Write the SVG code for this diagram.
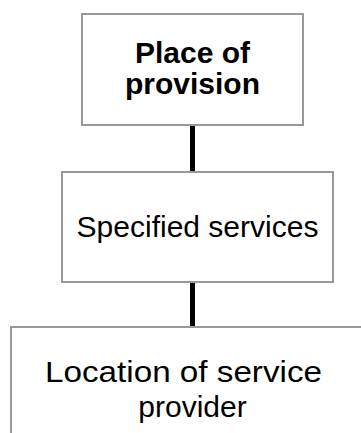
<svg xmlns="http://www.w3.org/2000/svg" width="361" height="433" viewBox="0 0 361 433">
  <style>
    .box { fill: #ffffff; stroke: #999999; stroke-width: 2; }
    .conn { stroke: #000000; stroke-width: 5; fill: none; }
    .label { font-family: "Liberation Sans", Arial, sans-serif; font-size: 30px; fill: #000000; text-anchor: middle; }
    .bold { font-weight: bold; }
  </style>
  <rect width="361" height="433" fill="#ffffff"/>
  <g id="connectors">
    <line class="conn" x1="192.5" y1="125" x2="192.5" y2="172"/>
    <line class="conn" x1="192.5" y1="282" x2="192.5" y2="327"/>
  </g>
  <g id="node-place">
    <rect class="box" x="82" y="14" width="221" height="111"/>
    <text class="label bold" x="192.5" y="63">Place of</text>
    <text class="label bold" x="192.5" y="94">provision</text>
  </g>
  <g id="node-specified">
    <rect class="box" x="62" y="172" width="271" height="110"/>
    <text class="label" x="197.5" y="237">Specified services</text>
  </g>
  <g id="node-location">
    <rect class="box" x="11" y="327" width="360" height="120"/>
    <text class="label" x="183.5" y="382" textLength="277" lengthAdjust="spacingAndGlyphs">Location of service</text>
    <text class="label" x="192.5" y="417">provider</text>
  </g>
</svg>
